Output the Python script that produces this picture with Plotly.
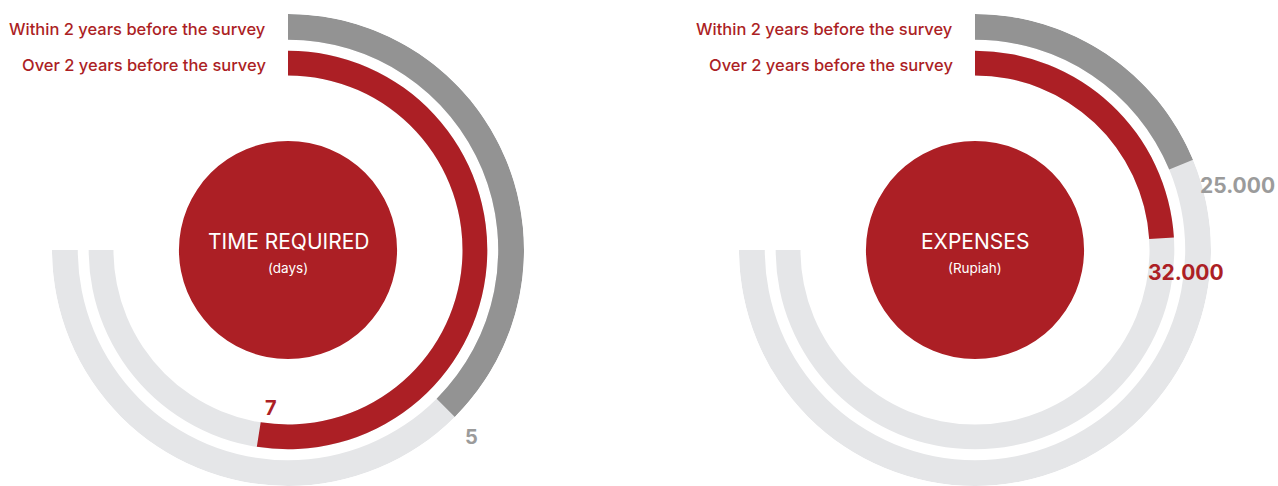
import plotly.graph_objects as go

# ---- data ----
panels = ["TIME REQUIRED", "EXPENSES"]
units = ["(days)", "(Rupiah)"]
series_names = ["Within 2 years before the survey", "Over 2 years before the survey"]
within_2y = [5, 25000]          # outer ring (grey)
over_2y = [7, 32000]            # inner ring (red)
scale_max = [10, 100000]        # value that fills the whole 270° track
value_labels_within = ["5", "25.000"]
value_labels_over = ["7", "32.000"]

# ---- style ----
W, H = 1278, 486
RED = "#ac1f25"
GREY = "#939393"
TRACK = "#e5e6e8"
LABEL_GREY = "#9b9b9b"
FONT = "Inter, Lato, sans-serif"
SWEEP = 270.0

centers_x = [288, 975]     # pixel centre of each dial
R_PX = 236
R_MAX = 238.0              # radial axis units
OUTER = (212, 26)          # base, thickness
INNER = (176, 25)
DISC = 110


def px(x, y):
    return x / W, 1 - y / H


def note(xp, yp, text, size, color, xanchor="center", weight="normal"):
    x, y = px(xp, yp)
    return dict(x=x, y=y, xref="paper", yref="paper", xanchor=xanchor,
                yanchor="middle", showarrow=False, text=text,
                font=dict(family=FONT, size=size, color=color, weight=weight))


fig = go.Figure()
annotations = []

for i in range(2):
    pid = "polar" if i == 0 else "polar2"
    sub = pid
    m = scale_max[i]

    def arc(value, ring, color, name):
        span = value / m * SWEEP
        base, thick = ring
        return go.Barpolar(
            r=[thick], base=[base], theta=[span / 2], width=[span],
            marker=dict(color=color, line=dict(width=0)),
            subplot=sub, name=name, showlegend=False, hoverinfo="skip",
        )

    # background tracks
    fig.add_trace(arc(m, OUTER, TRACK, "track"))
    fig.add_trace(arc(m, INNER, TRACK, "track"))
    # values
    fig.add_trace(arc(within_2y[i], OUTER, GREY, series_names[0]))
    fig.add_trace(arc(over_2y[i], INNER, RED, series_names[1]))
    # centre disc
    fig.add_trace(go.Barpolar(
        r=[DISC], base=[0], theta=[180], width=[360],
        marker=dict(color=RED, line=dict(width=0)),
        subplot=sub, showlegend=False, hoverinfo="skip",
    ))

    cx = centers_x[i]
    dom_x = [(cx - R_PX) / W, (cx + R_PX) / W]
    dom_y = [0, (2 * R_PX) / H]
    fig.update_layout({pid: dict(
        domain=dict(x=dom_x, y=dom_y),
        bgcolor="rgba(0,0,0,0)",
        radialaxis=dict(visible=False, range=[0, R_MAX], showgrid=False),
        angularaxis=dict(visible=False, rotation=90, direction="clockwise",
                         showgrid=False, showline=False, ticks=""),
        barmode="overlay",
    )})

    # series labels next to the ring starts
    for j, yy in enumerate([29, 65]):
        annotations.append(note(cx - 20, yy, series_names[j], 16.5, RED,
                                xanchor="right", weight=500))
    # centre titles
    annotations.append(note(cx, 241, panels[i], 21, "white"))
    annotations.append(note(cx, 268, units[i], 13.5, "white"))

# value labels
label_pos_within = [(471, 437), (1237, 186)]
label_pos_over = [(271, 408), (1186, 272)]
label_size = [20, 21]
for i in range(2):
    annotations.append(note(*label_pos_within[i], value_labels_within[i],
                            label_size[i], LABEL_GREY, weight=700))
    annotations.append(note(*label_pos_over[i], value_labels_over[i],
                            label_size[i], RED, weight=700))

fig.update_layout(
    width=W, height=H,
    margin=dict(l=0, r=0, t=0, b=0),
    paper_bgcolor="white", plot_bgcolor="white",
    showlegend=False,
    annotations=annotations,
)

fig.write_html("out.html")
